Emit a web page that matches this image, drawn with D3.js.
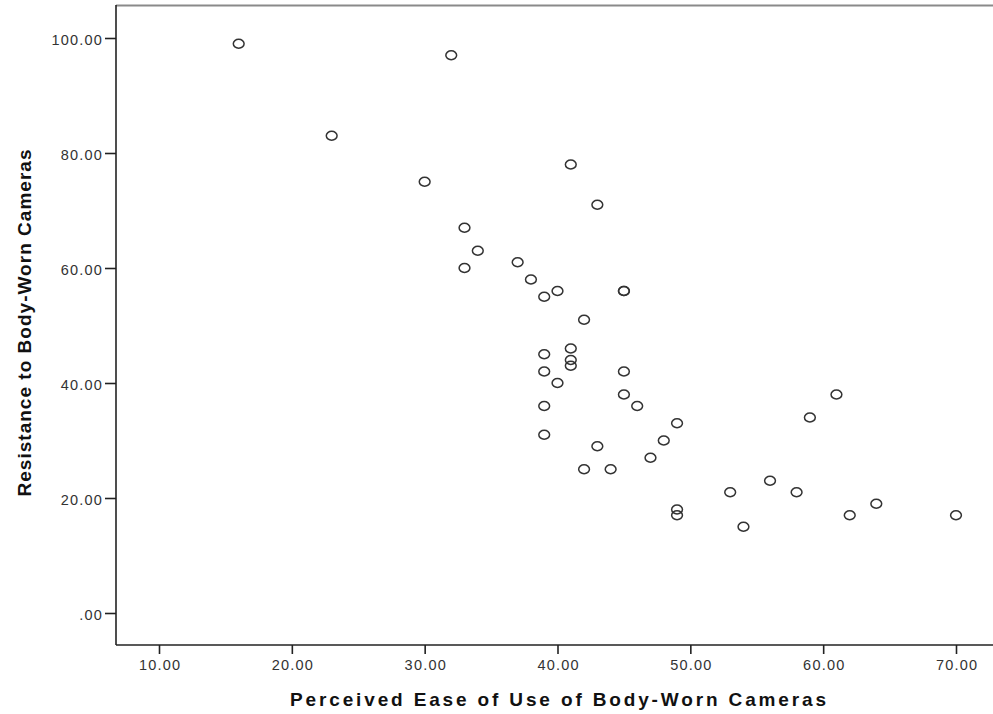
<!DOCTYPE html>
<html>
<head>
<meta charset="utf-8">
<script src="https://cdn.jsdelivr.net/npm/d3@7"></script>
<style>
  html, body { margin: 0; padding: 0; background: #fff; }
  svg { display: block; }
</style>
</head>
<body>
<svg id="chart" width="993" height="714"></svg>
<script>
const easeOfUse = [16, 32, 23, 30, 41, 43, 33, 34, 33, 37, 38, 39, 40, 45, 45, 42, 41, 39, 41, 41, 39, 45, 40, 45, 46, 39, 39, 49, 48, 43, 47, 42, 44, 59, 61, 56, 53, 58, 49, 49, 54, 62, 64, 70];
const resistance = [99, 97, 83, 75, 78, 71, 67, 63, 60, 61, 58, 55, 56, 56, 56, 51, 46, 45, 44, 43, 42, 42, 40, 38, 36, 36, 31, 33, 30, 29, 27, 25, 25, 34, 38, 23, 21, 21, 18, 17, 15, 17, 19, 17];
const xTicks = [10, 20, 30, 40, 50, 60, 70];
const yTicks = [0, 20, 40, 60, 80, 100];
const xTitle = "Perceived Ease of Use of Body-Worn Cameras";
const yTitle = "Resistance to Body-Worn Cameras";

(function () {
const svg = d3.select("#chart");
const pLeft = 116, pRight = 993, pTop = 5, pBottom = 645;

const x = d3.scaleLinear().domain([10, 70]).range([159, 956]);
const y = d3.scaleLinear().domain([0, 100]).range([613, 38]);

const fmt = v => v === 0 ? ".00" : d3.format(".2f")(v);

// frame top
svg.append("line").attr("x1", pLeft).attr("x2", pRight).attr("y1", pTop + 0.5).attr("y2", pTop + 0.5)
  .attr("stroke", "#8a8a8a").attr("stroke-width", 2);

// y axis
const yAxis = svg.append("g").attr("transform", `translate(${pLeft},0)`)
  .call(d3.axisLeft(y).tickValues(yTicks).tickFormat(fmt).tickSize(11).tickSizeOuter(0).tickPadding(2));
yAxis.select(".domain").remove();
yAxis.selectAll(".tick text").attr("dy", "0.45em");
svg.append("line").attr("x1", pLeft).attr("x2", pLeft).attr("y1", pTop).attr("y2", pBottom)
  .attr("stroke", "#222").attr("stroke-width", 1.6);

// x axis
const xAxis = svg.append("g").attr("transform", `translate(0,${pBottom})`)
  .call(d3.axisBottom(x).tickValues(xTicks).tickFormat(fmt).tickSize(9).tickSizeOuter(0).tickPadding(6));
xAxis.select(".domain").remove();
xAxis.selectAll(".tick text").attr("dx", "0.6px");
svg.append("line").attr("x1", pLeft).attr("x2", pRight).attr("y1", pBottom).attr("y2", pBottom)
  .attr("stroke", "#222").attr("stroke-width", 1.6);

svg.selectAll(".tick line").attr("stroke", "#222").attr("stroke-width", 1.6);
svg.selectAll(".tick text").attr("fill", "#333")
  .style("font-family", "'Liberation Sans', Arial, sans-serif")
  .style("font-size", "14.5px").style("letter-spacing", "1.2px");

// points
svg.append("g").selectAll("ellipse")
  .data(easeOfUse.map((v, i) => [v, resistance[i]]))
  .join("ellipse")
  .attr("cx", d => x(d[0]))
  .attr("cy", d => y(d[1]))
  .attr("rx", 5.4).attr("ry", 4.4)
  .attr("fill", "none").attr("stroke", "#333").attr("stroke-width", 1.5);

// titles
svg.append("text")
  .attr("x", 558).attr("y", 706)
  .attr("text-anchor", "middle")
  .attr("textLength", 536).attr("lengthAdjust", "spacing")
  .style("font-family", "'Liberation Sans', Arial, sans-serif")
  .style("font-weight", "bold").style("font-size", "19px").attr("fill", "#111")
  .text(xTitle);

svg.append("text")
  .attr("transform", "translate(31,323) rotate(-90)")
  .attr("text-anchor", "middle")
  .attr("textLength", 347).attr("lengthAdjust", "spacing")
  .style("font-family", "'Liberation Sans', Arial, sans-serif")
  .style("font-weight", "bold").style("font-size", "19px").attr("fill", "#111")
  .text(yTitle);
})();
</script>
</body>
</html>
